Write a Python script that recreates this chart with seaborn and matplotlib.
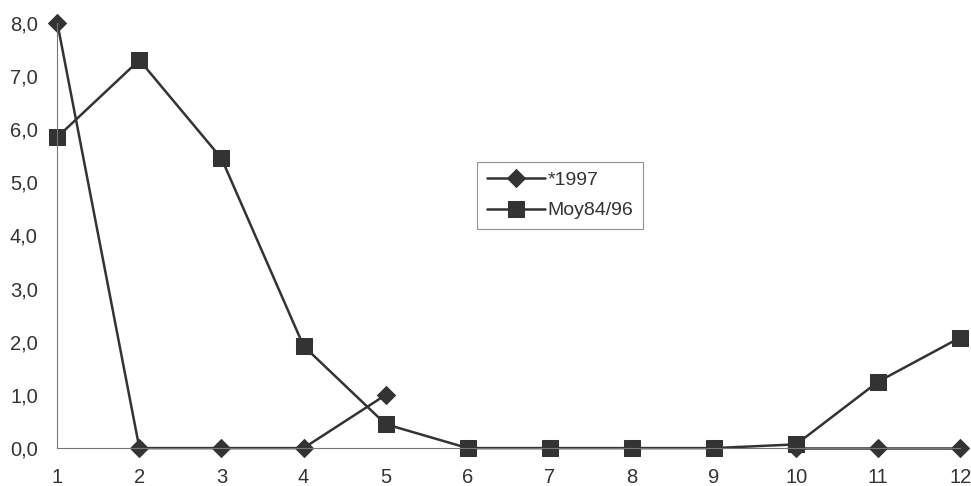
import numpy as np
import pandas as pd
import seaborn as sns
import matplotlib.pyplot as plt

months = list(range(1, 13))
s1997 = [8.0, 0.0, 0.0, 0.0, 1.0, np.nan, np.nan, np.nan, np.nan, 0.0, 0.0, 0.0]
moy = [5.85, 7.3, 5.45, 1.92, 0.45, 0.0, 0.0, 0.0, 0.0, 0.07, 1.25, 2.08]
yticks = [0, 1, 2, 3, 4, 5, 6, 7, 8]

sns.set_style("white")
plt.rcParams['font.family'] = ['Liberation Sans', 'DejaVu Sans']

fig = plt.figure(figsize=(9.71, 4.86), dpi=100)
ax = fig.add_axes([0.059, 0.078, 0.930, 0.875])

# split the 1997 series into contiguous segments (gap where data is missing)
seg = np.cumsum(np.isnan(np.array(s1997, dtype=float)))
df = pd.DataFrame({"month": months, "*1997": s1997, "Moy84/96": moy, "seg": seg})
d97 = df.dropna(subset=["*1997"])
col = "#333333"
sns.lineplot(data=d97, x="month", y="*1997", units="seg", estimator=None, ax=ax,
             color=col, lw=1.8, marker="D", markersize=9, markeredgecolor=col,
             label="*1997", clip_on=False)
sns.lineplot(data=df, x="month", y="Moy84/96", ax=ax, color=col, lw=1.8,
             marker="s", markersize=11.5, markeredgecolor=col, label="Moy84/96", clip_on=False)

ax.set_xlim(1, 12)
ax.set_ylim(0, 8)
ax.set_xticks(months)
ax.set_xticklabels([str(m) for m in months])
ax.set_yticks(yticks)
ax.set_yticklabels([f"{v:.1f}".replace(".", ",") for v in yticks])
ax.set_xlabel("")
ax.set_ylabel("")
for s in ["top", "right"]:
    ax.spines[s].set_visible(False)
for s in ["left", "bottom"]:
    ax.spines[s].set_color("#777777")
    ax.spines[s].set_linewidth(0.8)
ax.tick_params(axis="y", direction="inout", length=8, width=0.8, color="#777777",
               labelsize=14.5, labelcolor="#333333", pad=10)
ax.tick_params(axis="x", direction="in", length=4, width=0.8, color="#777777",
               labelsize=14.5, labelcolor="#333333", pad=14)
ax.set_ylim(0, 8)

handles, labels = ax.get_legend_handles_labels()
hmap = {}
for h, l in zip(handles, labels):
    hmap.setdefault(l, h)
names = ["*1997", "Moy84/96"]
leg = ax.legend([hmap[n] for n in names], names, loc="upper left",
                bbox_to_anchor=(0.465, 0.673), frameon=True, fancybox=False,
                edgecolor="#777777", fontsize=14, handlelength=3.0, handletextpad=0.1,
                borderpad=0.5, labelspacing=0.65, borderaxespad=0)
leg.get_frame().set_linewidth(0.8)
for t in leg.get_texts():
    t.set_color("#333333")

fig.savefig("out.png", dpi=100)
